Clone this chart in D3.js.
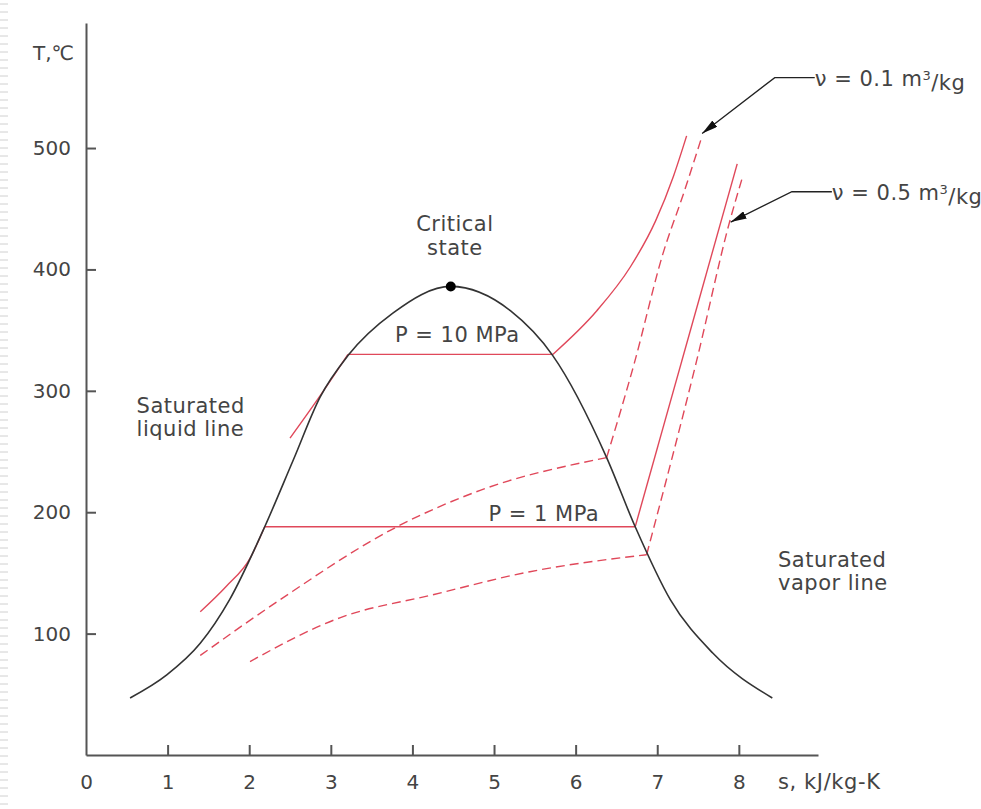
<!DOCTYPE html>
<html>
<head>
<meta charset="utf-8">
<script src="https://cdn.jsdelivr.net/npm/d3@7"></script>
<style>
  body { margin: 0; background: #fff; }
  svg text { font-family: "DejaVu Sans", sans-serif; fill: #444; }
</style>
</head>
<body>
<div id="chart"></div>
<script>
// saturation dome (s in kJ/kg-K, T in C)
var domeS = [0.54, 0.99, 1.40, 1.76, 2.19, 2.54, 2.87, 3.21, 3.76, 4.47, 5.20, 5.72, 6.38, 6.73, 7.16, 7.68, 8.41];
var domeT = [47, 66, 92, 128, 188, 243, 295, 329, 364, 386, 366, 329, 245, 188, 128, 84, 47];
var critical = [4.47, 386];

// P = 10 MPa isobar
var p10LiqS = [2.50, 2.87, 3.21], p10LiqT = [261, 296, 330];
var p10SatS = [3.21, 5.72], p10SatT = [330, 330];
var p10VapS = [5.72, 6.26, 6.67, 6.98, 7.20, 7.36], p10VapT = [330, 366, 402, 440, 477, 510];

// P = 1 MPa isobar
var p1LiqS = [1.40, 1.72, 2.01, 2.19], p1LiqT = [118, 139, 162, 188];
var p1SatS = [2.19, 6.73], p1SatT = [188, 188];
var p1VapS = [6.73, 7.98], p1VapT = [188, 487];

// constant volume lines
var v01WetS = [1.40, 2.38, 3.81, 4.83, 6.38], v01WetT = [82, 128, 188, 218, 245];
var v01VapS = [6.38, 6.72, 7.07, 7.32, 7.55], v01VapT = [245, 323, 413, 462, 510];
var v05WetS = [2.01, 3.11, 4.25, 5.44, 6.87], v05WetT = [77, 113, 132, 151, 165];
var v05VapS = [6.87, 7.48, 7.89, 8.04], v05VapT = [165, 324, 440, 475];

var xTicks = [0, 1, 2, 3, 4, 5, 6, 7, 8];
var yTicks = [100, 200, 300, 400, 500];

var width = 981, height = 809;
var red = "#e0485a";

var svg = d3.select("#chart").append("svg")
    .attr("width", width)
    .attr("height", height);

// slide border decoration on the left
svg.append("g").selectAll("line")
    .data(d3.range(4, height, 8))
    .enter().append("line")
    .attr("x1", 0).attr("x2", 8)
    .attr("y1", function (d) { return d; }).attr("y2", function (d) { return d; })
    .attr("stroke", "#d0d0d0").attr("stroke-width", 1);

var x = d3.scaleLinear().domain([0, 8.97]).range([86, 818]);
var y = d3.scaleLinear().domain([0, 603]).range([755, 23]);

var line = d3.line()
    .x(function (d) { return x(d[0]); })
    .y(function (d) { return y(d[1]); });
var smooth = d3.line()
    .x(function (d) { return x(d[0]); })
    .y(function (d) { return y(d[1]); })
    .curve(d3.curveMonotoneX);

function pts(s, t) { return s.map(function (v, i) { return [v, t[i]]; }); }

// axes
var xAxis = svg.append("g")
    .attr("transform", "translate(0," + y(0) + ")")
    .call(d3.axisBottom(x).tickValues(xTicks).tickSize(-10).tickSizeOuter(0).tickPadding(20));
var yAxis = svg.append("g")
    .attr("transform", "translate(" + x(0) + ",0)")
    .call(d3.axisLeft(y).tickValues(yTicks).tickSize(-10).tickSizeOuter(0).tickPadding(15));
[xAxis, yAxis].forEach(function (g) {
    g.select(".domain").attr("stroke", "#555").attr("stroke-width", 2);
    g.selectAll(".tick line").attr("stroke", "#555").attr("stroke-width", 2);
    g.selectAll(".tick text").style("font-family", "DejaVu Sans").style("font-size", "20px").attr("fill", "#444");
});
xAxis.selectAll(".tick").filter(function (d) { return d === 0; }).select("line").remove();

svg.append("text")
    .attr("x", x(0) - 12).attr("y", y(603) + 37)
    .attr("text-anchor", "end")
    .style("font-size", "20px")
    .text("T,℃");
svg.append("text")
    .attr("x", x(8.48)).attr("y", y(0) + 34)
    .style("font-size", "21px")
    .style("letter-spacing", "0.6px")
    .text("s, kJ/kg-K");

// red isobars (solid)
[[p10LiqS, p10LiqT, smooth], [p10SatS, p10SatT, line], [p10VapS, p10VapT, smooth],
 [p1LiqS, p1LiqT, smooth], [p1SatS, p1SatT, line], [p1VapS, p1VapT, line]].forEach(function (d) {
    svg.append("path")
        .attr("d", d[2](pts(d[0], d[1])))
        .attr("fill", "none").attr("stroke", red).attr("stroke-width", 1.4);
});

// red constant volume lines (dashed)
[[v01WetS, v01WetT], [v01VapS, v01VapT], [v05WetS, v05WetT], [v05VapS, v05VapT]].forEach(function (d) {
    svg.append("path")
        .attr("d", smooth(pts(d[0], d[1])))
        .attr("fill", "none").attr("stroke", red).attr("stroke-width", 1.4)
        .attr("stroke-dasharray", "9,5");
});

// dome
svg.append("path")
    .attr("d", smooth(pts(domeS, domeT)))
    .attr("fill", "none").attr("stroke", "#333").attr("stroke-width", 1.6);
svg.append("circle")
    .attr("cx", x(critical[0])).attr("cy", y(critical[1])).attr("r", 5)
    .attr("fill", "#000");

// text labels
function label(s, t, str, anchor) {
    return svg.append("text")
        .attr("x", x(s)).attr("y", y(t)).attr("dy", "0.35em")
        .attr("text-anchor", anchor || "start")
        .style("font-size", "21px")
        .style("letter-spacing", "0.5px")
        .text(str);
}
label(4.52, 438, "Critical", "middle");
label(4.52, 418, "state", "middle");
label(4.55, 346, "P = 10 MPa", "middle");
label(5.61, 199, "P = 1 MPa", "middle");
label(0.62, 288, "Saturated");
label(0.62, 269, "liquid line");
label(8.48, 161, "Saturated");
label(8.48, 142, "vapor line");

// arrows for specific volume
svg.append("defs").append("marker")
    .attr("id", "arrow")
    .attr("viewBox", "0 0 16 8")
    .attr("refX", 16).attr("refY", 4)
    .attr("markerWidth", 16).attr("markerHeight", 8)
    .attr("markerUnits", "userSpaceOnUse")
    .attr("orient", "auto")
    .append("path").attr("d", "M0,0L16,4L0,8Z").attr("fill", "#111");

var notes = [
    { tip: [7.55, 512], elbow: [8.44, 558], end: [8.93, 558], v: "0.1" },
    { tip: [7.90, 439], elbow: [8.65, 464], end: [9.14, 464], v: "0.5" }
];
notes.forEach(function (n) {
    svg.append("path")
        .attr("d", line([n.end, n.elbow, n.tip]))
        .attr("fill", "none").attr("stroke", "#222").attr("stroke-width", 1.3)
        .attr("marker-end", "url(#arrow)");
    var t = svg.append("text")
        .attr("x", x(n.end[0])).attr("y", y(n.end[1])).attr("dy", "0.4em")
        .style("font-size", "21px")
        .style("letter-spacing", "0.5px");
    t.append("tspan").text("ν = " + n.v + " m");
    t.append("tspan").attr("dy", "-0.45em").style("font-size", "13px").text("3");
    t.append("tspan").attr("dy", "0.45em").text("/kg");
});
</script>
</body>
</html>
